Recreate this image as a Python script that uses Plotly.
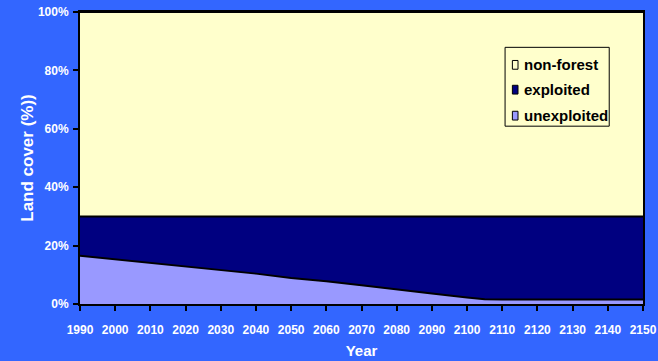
import plotly.graph_objects as go

# Land cover shares (% of total area)
years = [1990, 2000, 2010, 2020, 2030, 2040, 2050, 2060, 2070, 2080, 2090, 2100,
         2105, 2110, 2120, 2130, 2140, 2150]
unexploited = [16.5, 15.3, 14.1, 12.8, 11.8, 10.4, 8.9, 7.8, 6.4, 4.9, 3.6, 2.2,
               1.6, 1.5, 1.5, 1.5, 1.5, 1.5]
forest_total = [30.0] * len(years)
exploited = [f - u for f, u in zip(forest_total, unexploited)]
non_forest = [100.0 - f for f in forest_total]

x_ticks = list(range(1990, 2151, 10))
y_ticks = [0, 20, 40, 60, 80, 100]
y_tick_text = [f"{v}%" for v in y_ticks]

BG = "#3366FF"
FONT = "Liberation Sans, Arial, sans-serif"

fig = go.Figure()
series = [
    ("unexploited", unexploited, "#9999FF"),
    ("exploited", exploited, "#000080"),
    ("non-forest", non_forest, "#FFFFCC"),
]
for name, vals, color in series:
    fig.add_trace(go.Scatter(
        x=years, y=vals, name=name, mode="lines",
        stackgroup="land", fillcolor=color,
        line=dict(color="black", width=2),
        hoverinfo="x+y+name", showlegend=False,
    ))

# Boxed key with small square swatches, top entry = top layer
key_left, key_right, key_top, key_bottom = 0.755, 0.940, 0.879, 0.609
fig.add_shape(type="rect", xref="paper", yref="paper",
              x0=key_left, x1=key_right, y0=key_bottom, y1=key_top,
              line=dict(color="black", width=1), fillcolor="#FFFFCC", layer="above")
row_y = [0.819, 0.734, 0.645]
for (name, _, color), yc in zip(reversed(series), row_y):
    fig.add_shape(type="rect", xref="paper", yref="paper",
                  x0=0.768, x1=0.778, y0=yc - 0.015, y1=yc + 0.015,
                  line=dict(color="black", width=1), fillcolor=color, layer="above")
    fig.add_annotation(x=0.785, y=yc, xref="paper", yref="paper",
                       text=name, showarrow=False, xanchor="left", yanchor="middle",
                       font=dict(family=FONT, size=15, color="black", weight="bold"))

fig.update_layout(
    width=658, height=361,
    paper_bgcolor=BG, plot_bgcolor="#FFFFCC",
    margin=dict(l=80, r=15, t=12, b=57),
    font=dict(family=FONT, color="white"),
    showlegend=False,
    xaxis=dict(
        range=[1990, 2150], tickmode="array", tickvals=x_ticks,
        ticks="outside", ticklen=5, tickcolor="black", tickwidth=2,
        showline=True, linecolor="black", linewidth=2, mirror=True,
        showgrid=False, zeroline=False, automargin=False,
        ticklabelstandoff=9,
        tickfont=dict(family=FONT, size=12, color="white", weight="bold"),
        title=dict(text="Year", standoff=9,
                   font=dict(family=FONT, size=15, color="white", weight="bold")),
    ),
    yaxis=dict(
        range=[0, 100], tickmode="array", tickvals=y_ticks, ticktext=y_tick_text,
        ticks="outside", ticklen=5, tickcolor="black", tickwidth=2,
        showline=True, linecolor="black", linewidth=2, mirror=True,
        showgrid=False, zeroline=False, automargin=False,
        ticklabelstandoff=2,
        tickfont=dict(family=FONT, size=12, color="white", weight="bold"),
        title=dict(text="Land cover (%))", standoff=0,
                   font=dict(family=FONT, size=17, color="white", weight="bold")),
    ),
)

fig.write_html("out.html")
